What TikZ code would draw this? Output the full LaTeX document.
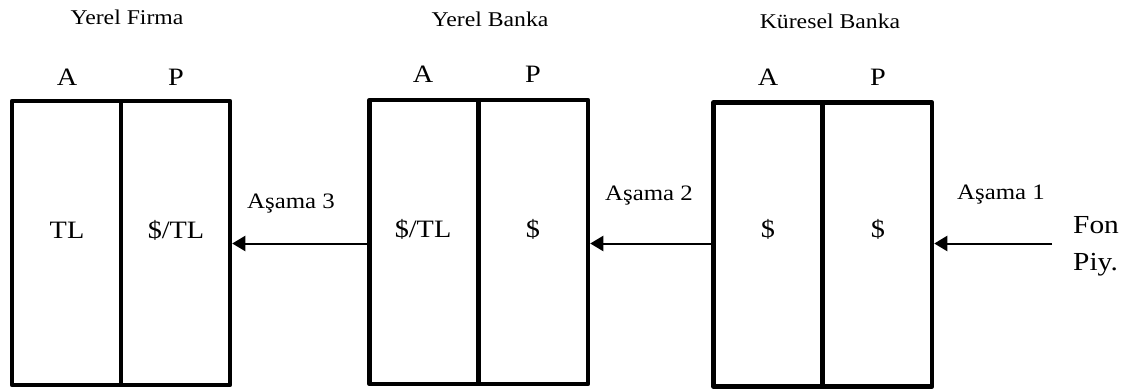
\documentclass[tikz,border=0pt]{standalone}
\usepackage{fontspec}
\setmainfont{Liberation Serif}[FakeStretch=1.13]
\usetikzlibrary{arrows.meta}
\tikzset{
  cell/.style={draw, line width=4.5pt, line join=round, inner sep=0pt,
               minimum width=109pt, minimum height=284pt},
  title/.style={anchor=base, font=\fontsize{21pt}{24pt}\selectfont, inner sep=0pt},
  side/.style={anchor=base, font=\fontsize{25pt}{28pt}\selectfont, inner sep=0pt},
  entry/.style={anchor=base, font=\fontsize{25pt}{28pt}\selectfont, inner sep=0pt},
  stage/.style={anchor=base west, font=\fontsize{22pt}{25pt}\selectfont, inner sep=0pt},
  market/.style={anchor=base west, font=\fontsize{26pt}{30pt}\selectfont, inner sep=0pt},
  flow/.style={line width=2pt, -{Triangle[length=13pt, width=15pt]}}
}
\begin{document}
\begin{tikzpicture}[x=1pt, y=-1pt]
  \useasboundingbox (0,0) rectangle (1126,389);

  % Local firm balance sheet
  \node[cell] (fa) at (66.5,243) {};
  \node[cell] (fp) at (175.5,243) {};
  % Local bank balance sheet
  \node[cell] (ya) at (424,242) {};
  \node[cell] (yp) at (533.5,242) {};
  % Global bank balance sheet
  \node[cell] (ka) at (768,244.5) {};
  \node[cell] (kp) at (877.5,244.5) {};

  % Titles
  \node[title] (tf) at (127,24) {Yerel Firma};
  \node[title] (ty) at (490,26) {Yerel Banka};
  \node[title] (tk) at (830,28) {Küresel Banka};

  % Assets / liabilities headers
  \node[side] (hfa) at (67,85) {A};
  \node[side] (hfp) at (176,85) {P};
  \node[side] (hya) at (423,82) {A};
  \node[side] (hyp) at (533,82) {P};
  \node[side] (hka) at (768,85) {A};
  \node[side] (hkp) at (878,85) {P};

  % Balance sheet entries
  \node[entry] (efa) at (67,238) {TL};
  \node[entry] (efp) at (176,238) {\$/TL};
  \node[entry] (eya) at (423,237) {\$/TL};
  \node[entry] (eyp) at (533,237) {\$};
  \node[entry] (eka) at (768,237) {\$};
  \node[entry] (ekp) at (878,237) {\$};

  % Funding market
  \node[market] (fon) at (1073,233) {Fon};
  \node[market] (piy) at (1073,270) {Piy.};
  \coordinate (src) at (1052,243.5);

  % Flows
  \draw[flow] (src) -- (src -| kp.east);
  \draw[flow] (ka.west |- 0,243.5) -- (yp.east |- 0,243.5);
  \draw[flow] (ya.west |- 0,243.5) -- (fp.east |- 0,243.5);

  % Stage labels
  \node[stage] (s1) at (957,199) {Aşama 1};
  \node[stage] (s2) at (605,200) {Aşama 2};
  \node[stage] (s3) at (247,208) {Aşama 3};
\end{tikzpicture}
\end{document}
